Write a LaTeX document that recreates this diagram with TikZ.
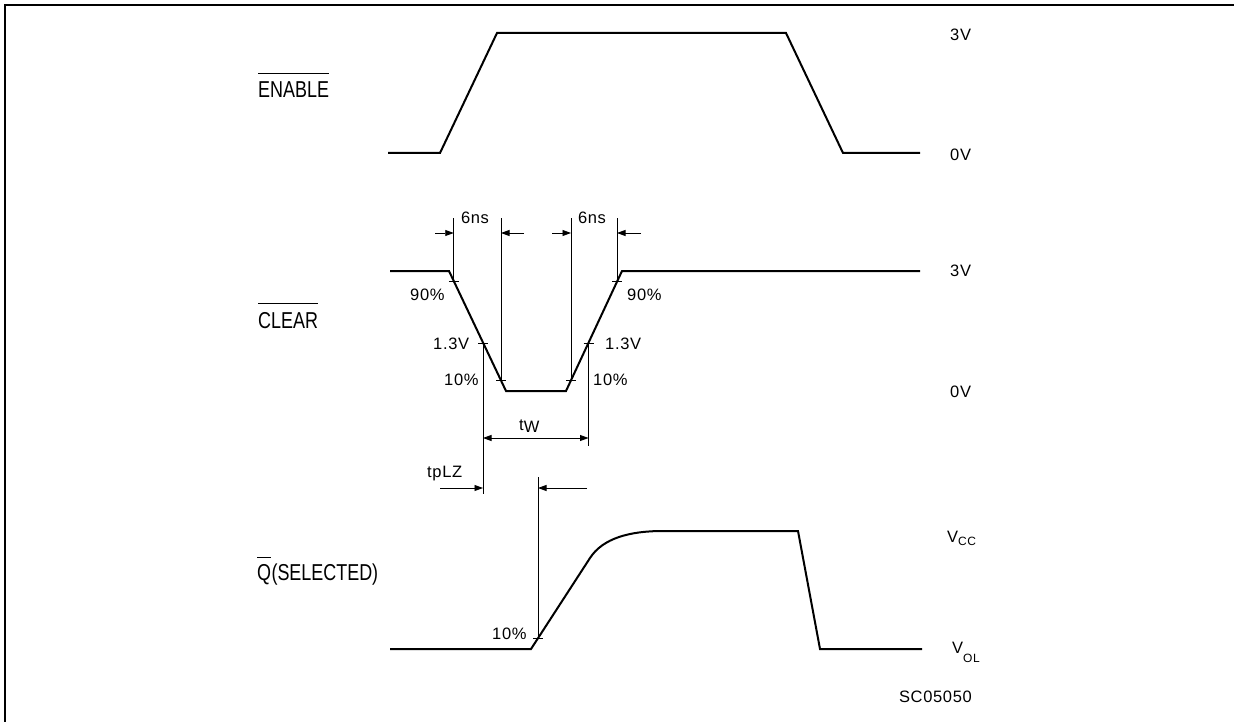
\documentclass[tikz,border=0pt]{standalone}
\usepackage{fontspec}
\setmainfont{Liberation Sans}[LetterSpace=4]
\newfontfamily\signame{Liberation Sans}[FakeStretch=0.78]
\usetikzlibrary{arrows.meta}
\begin{document}
\begin{tikzpicture}[x=1pt,y=-1pt,
  wave/.style={line width=2pt, line join=miter},
  dim/.style={line width=0.8pt},
  arr/.style={dim,-{Triangle[length=8.5pt,width=6pt]}},
  arrboth/.style={dim,{Triangle[length=8.5pt,width=6pt]}-{Triangle[length=8.5pt,width=6pt]}},
  lab/.style={inner sep=0pt, font=\fontsize{16.5}{18}\selectfont},
  sig/.style={inner sep=0pt, font=\signame\fontsize{23}{25}\selectfont},
  ticklen/.style={line width=0.8pt}]
\useasboundingbox (0,0) rectangle (1234,722);
\draw[line width=2.5pt] (5,722) -- (5,5) -- (1234,5);

% ---------- ENABLE ----------
\draw[wave] (388,153) -- (440,153) -- (497,33) -- (786,33) -- (843,153) -- (920,153);
\node[sig, anchor=base west] (en) at (258,98) {ENABLE};
\draw[dim] ([yshift=9pt]en.north west) -- ([yshift=9pt]en.north east);
\node[lab, anchor=base west] (e3v) at (950,41) {3V};
\node[lab, anchor=base west] (e0v) at (950,161) {0V};

% ---------- CLEAR ----------
\coordinate (c1) at (449,271);
\coordinate (c2) at (506,391);
\coordinate (c3) at (566,391);
\coordinate (c4) at (622,271);
\draw[wave] (390,271) -- (c1) -- (c2) -- (c3) -- (c4) -- (920,271);
\node[sig, anchor=base west] (cl) at (258,328) {CLEAR};
\draw[dim] ([yshift=8pt]cl.north west) -- ([yshift=8pt]cl.north east);
\node[lab, anchor=base west] (c3v) at (950,276) {3V};
\node[lab, anchor=base west] (c0v) at (950,397) {0V};

% crossing points
\coordinate (L90) at (453.75,281);
\coordinate (L13) at (483,343);
\coordinate (L10) at (501,380);
\coordinate (R10) at (571,380);
\coordinate (R13) at (588.5,343);
\coordinate (R90) at (617,281);
\foreach \p in {L90,L13,L10,R10,R13,R90}
  \draw[ticklen] ([xshift=-5pt]\p) -- ([xshift=5pt]\p);

% extension lines
\coordinate (L90t) at (453.75,218);
\coordinate (L10t) at (501,218);
\coordinate (R10t) at (571,218);
\coordinate (R90t) at (617,218);
\coordinate (L13b) at (483,494);
\coordinate (R13b) at (588.5,446);
\draw[dim] (L90) -- (L90t);
\draw[dim] (L10) -- (L10t);
\draw[dim] (R10) -- (R10t);
\draw[dim] (R90) -- (R90t);
\draw[dim] (L13) -- (L13b);
\draw[dim] (R13) -- (R13b);

% 6ns arrows
\coordinate (a1) at (435,233);  \coordinate (a1e) at (453.75,233);
\coordinate (a2) at (524,233);  \coordinate (a2e) at (501,233);
\coordinate (a3) at (552,233);  \coordinate (a3e) at (571,233);
\coordinate (a4) at (641,233);  \coordinate (a4e) at (617,233);
\draw[arr] (a1) -- (a1e);
\draw[arr] (a2) -- (a2e);
\draw[arr] (a3) -- (a3e);
\draw[arr] (a4) -- (a4e);
\node[lab, anchor=base] (ns1) at (475,223) {6ns};
\node[lab, anchor=base] (ns2) at (592,223) {6ns};

% level labels
\node[lab, anchor=base west] (l90) at (410,300) {90\%};
\node[lab, anchor=base west] (l13) at (433,349) {1.3V};
\node[lab, anchor=base west] (l10) at (444,385) {10\%};
\node[lab, anchor=base west] (r90) at (627,300) {90\%};
\node[lab, anchor=base west] (r13) at (605,349) {1.3V};
\node[lab, anchor=base west] (r10) at (593,385) {10\%};

% tw
\coordinate (tw1) at (483,438);
\coordinate (tw2) at (588.5,438);
\draw[arrboth] (tw1) -- (tw2);
\node[lab, anchor=base west] (tw) at (519,430) {t\raisebox{-2.5pt}{W}};

% ---------- Q ----------
\coordinate (q1) at (531,649);
\coordinate (q2) at (590,558);
\coordinate (q3) at (663,531);
\coordinate (q4) at (798,531);
\coordinate (q5) at (820,649);
\draw[wave] (390,649) -- (q1) -- (q2) .. controls (603,538) and (630,531) .. (q3) -- (q4) -- (q5) -- (922,649);
\coordinate (Q10) at (538,638);
\draw[ticklen] ([xshift=-5pt]Q10) -- ([xshift=5pt]Q10);
\coordinate (Q10t) at (538,477);
\draw[dim] (Q10) -- (Q10t);
\node[lab, anchor=base west] (q10) at (492,639) {10\%};

% tpLZ
\coordinate (p1) at (440,488);  \coordinate (p1e) at (483,488);
\coordinate (p2) at (587,488);  \coordinate (p2e) at (538,488);
\draw[arr] (p1) -- (p1e);
\draw[arr] (p2) -- (p2e);
\node[lab, anchor=base west] (tp) at (427,477) {tpLZ};

\node[sig, anchor=base west] (qq) at (257,580) {Q};
\draw[dim] ([yshift=6pt]qq.north west) -- ([yshift=6pt]qq.north east);
\node[sig, anchor=base west] (qsel) at (qq.base east) {(SELECTED)};

\node[lab, anchor=base west] (vcc) at (947,542) {V\raisebox{-3pt}{\fontsize{12}{13}\selectfont CC}};
\node[lab, anchor=base west] (vol) at (952,653) {V\raisebox{-9pt}{\fontsize{12}{13}\selectfont OL}};
\node[lab, anchor=base east] (sc) at (972,702) {SC05050};
\end{tikzpicture}
\end{document}
